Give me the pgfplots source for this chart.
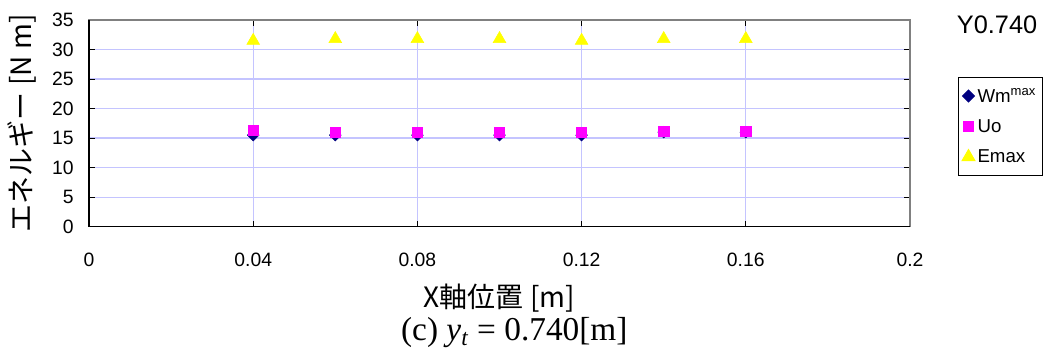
\documentclass[border=0pt]{standalone}
\usepackage{fontspec}
\setmainfont{Liberation Sans}
\newfontfamily\cjk{Noto Sans CJK JP}
\newfontfamily\serif{Liberation Serif}
\usepackage{pgfplots}
\pgfplotsset{compat=1.18}
\definecolor{navyc}{RGB}{0,0,128}
\definecolor{magc}{RGB}{255,0,255}
\definecolor{yelc}{RGB}{255,255,0}
\definecolor{gridc}{RGB}{196,196,255}
\definecolor{grayb}{RGB}{128,128,128}
\pgfplotstableread{
x Wm Uo Emax
0.04 15.5 16.3 31.5
0.06 15.5 16.0 31.8
0.08 15.5 16.0 31.8
0.10 15.5 16.0 31.8
0.12 15.5 16.0 31.5
0.14 16.0 16.1 31.8
0.16 16.0 16.1 31.8
}\datatab
\begin{document}
\begin{tikzpicture}
\begin{axis}[
  name=ax,
  at={(0,0)}, anchor=south west,
  scale only axis,
  width=615.75pt, height=155pt,
  xmin=0, xmax=0.2, ymin=0, ymax=35,
  xtick={0,0.04,0.08,0.12,0.16,0.2},
  xticklabels={0,0.04,0.08,0.12,0.16,0.2},
  ytick={0,5,...,35},
  /pgf/number format/assume math mode=true,
  ticklabel style={font=\fontsize{14.5}{17}\selectfont},
  xticklabel style={yshift=-16pt},
  yticklabel style={xshift=-8pt},
  tick align=inside,
  major tick length=4.5pt,
  tick style={black, line width=0.8pt},
  grid=major,
  major grid style={gridc, line width=0.9pt},
  axis line style={grayb, line width=1pt},
  xlabel={\cjk X軸位置 [m]},
  xlabel style={font=\fontsize{21}{24}\selectfont, at={(axis description cs:0.5,-0.344)}, anchor=center},
  ylabel={\cjk エネルギー [N m]},
  ylabel style={font=\fontsize{21}{24}\selectfont, at={(axis description cs:-0.082,0.5)}, anchor=center},
  legend style={at={(1.058,0.725)}, anchor=north west, draw=black, line width=0.8pt,
    font=\fontsize{14}{17}\selectfont, inner xsep=3pt, inner ysep=6pt, row sep=7.5pt,
    legend cell align=left},
  legend image code/.code={\draw[#1] plot coordinates {(0.25cm,0cm)};},
  clip=false,
]
\addplot[only marks, mark=square*, mark size=3.1pt, mark options={rotate=45}, draw=navyc, fill=navyc] table[x=x,y=Wm]{\datatab};
\addlegendentry{Wm\textsuperscript{max}}
\addplot[only marks, mark=square*, mark size=3.8pt, draw=magc, fill=magc] table[x=x,y=Uo]{\datatab};
\addlegendentry{Uo}
\addplot[only marks, mark=triangle*, mark size=5.5pt, draw=yelc, fill=yelc] table[x=x,y=Emax]{\datatab};
\addlegendentry{Emax}
\draw[black, line width=1pt] (rel axis cs:0,1) -- (rel axis cs:0,0) -- (rel axis cs:1,0);
\node[font=\fontsize{19}{22}\selectfont] at (axis description cs:1.106,0.976) {Y0.740};
\node[font=\serif\fontsize{25}{28}\selectfont] at (axis description cs:0.518,-0.51) {(c) \textit{y}\textsubscript{\textit{t}} = 0.740[m]};
\end{axis}
\pgfresetboundingbox
\useasboundingbox (ax.south west) ++(-66.75pt,-94pt) rectangle ++(791.25pt,264pt);
\end{tikzpicture}
\end{document}
